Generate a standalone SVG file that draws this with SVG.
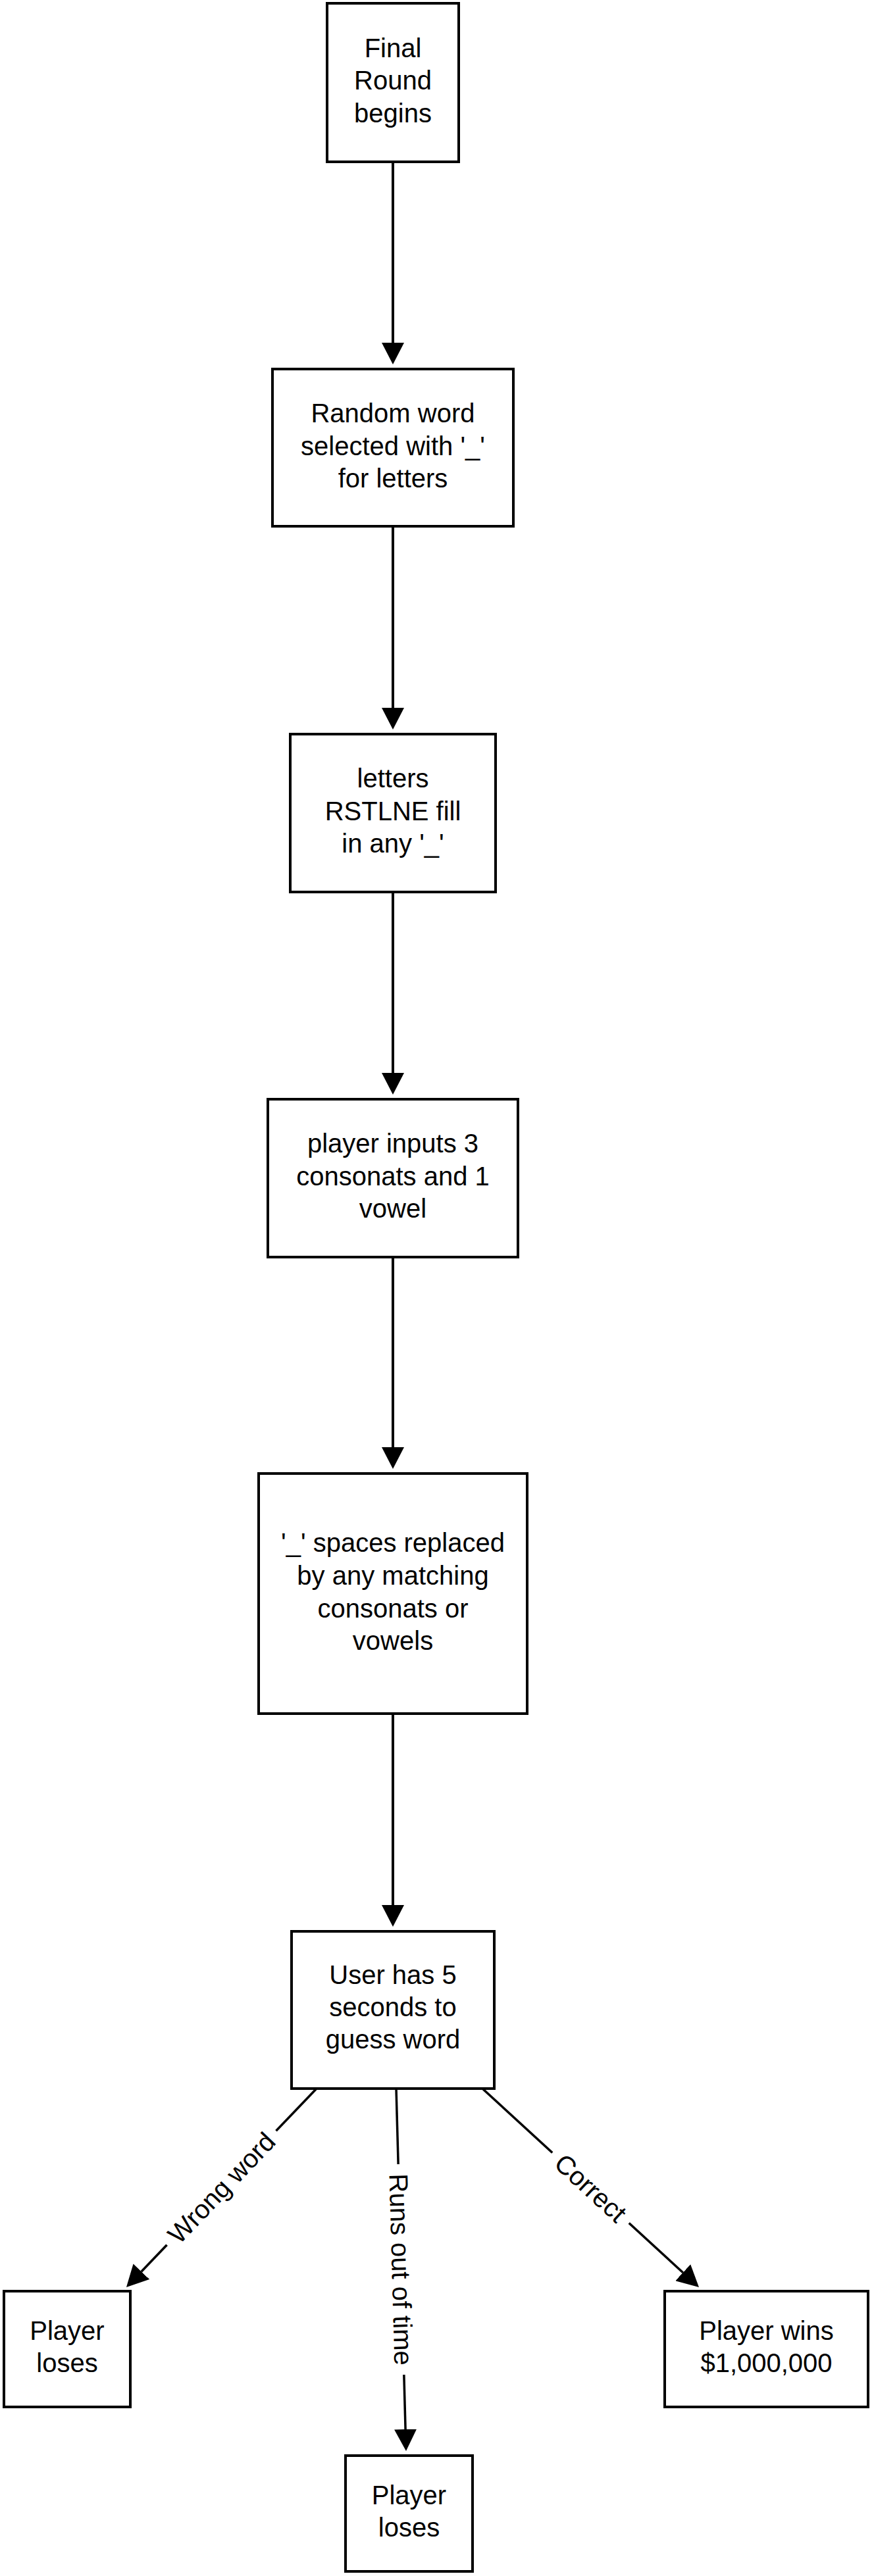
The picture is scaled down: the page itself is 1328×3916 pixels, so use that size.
<svg xmlns="http://www.w3.org/2000/svg" width="1328" height="3916" viewBox="0 0 1328 3916">
<style>
  .box { fill: #ffffff; stroke: #000000; stroke-width: 4; }
  .t { font-family: "Liberation Sans", Arial, Helvetica, sans-serif; font-size: 40px; fill: #000000; text-anchor: middle; }
  .edge { fill: none; stroke: #000000; stroke-width: 4; }
  .diag { fill: none; stroke: #000000; stroke-width: 3.5; }
  .lblbg { fill: #ffffff; stroke: none; }
</style>
<defs>
  <marker id="arrow" markerUnits="userSpaceOnUse" markerWidth="34" markerHeight="34" viewBox="0 0 34 34" refX="0" refY="17" orient="auto">
    <path d="M0,0 L33,17 L0,34 Z" fill="#000000"/>
  </marker>
</defs>
<rect width="1328" height="3916" fill="#ffffff"/>

<g id="connectors">
  <line class="edge" x1="597" y1="246" x2="597" y2="521" marker-end="url(#arrow)"/>
  <line class="edge" x1="597" y1="800" x2="597" y2="1076" marker-end="url(#arrow)"/>
  <line class="edge" x1="597" y1="1356" x2="597" y2="1631" marker-end="url(#arrow)"/>
  <line class="edge" x1="597" y1="1911" x2="597" y2="2200" marker-end="url(#arrow)"/>
  <line class="edge" x1="597" y1="2605" x2="597" y2="2896" marker-end="url(#arrow)"/>

  <g id="edge-wrong">
    <line class="diag" x1="481" y1="3175" x2="214.8" y2="3453.2" marker-end="url(#arrow)"/>
    <g transform="translate(336.5,3326) rotate(-46.27)">
      <rect class="lblbg" x="-120" y="-20" width="240" height="40"/>
      <text class="t" x="0" y="14">Wrong word</text>
    </g>
  </g>
  <g id="edge-time">
    <line class="diag" x1="602" y1="3175" x2="616.1" y2="3693" marker-end="url(#arrow)"/>
    <g transform="translate(609.5,3450) rotate(88.44)">
      <rect class="lblbg" x="-160" y="-20" width="320" height="40"/>
      <text class="t" x="0" y="14">Runs out of time</text>
    </g>
  </g>
  <g id="edge-correct">
    <line class="diag" x1="733" y1="3175" x2="1037.7" y2="3454.7" marker-end="url(#arrow)"/>
    <g transform="translate(897.5,3326) rotate(42.55)">
      <rect class="lblbg" x="-79" y="-20" width="158" height="40"/>
      <text class="t" x="0" y="14">Correct</text>
    </g>
  </g>
</g>

<g id="n1">
  <rect class="box" x="497" y="5" width="200" height="241"/>
  <text class="t" x="597" y="86.5">Final</text>
  <text class="t" x="597" y="136">Round</text>
  <text class="t" x="597" y="185.5">begins</text>
</g>
<g id="n2">
  <rect class="box" x="414" y="561" width="366" height="239"/>
  <text class="t" x="597" y="642">Random word</text>
  <text class="t" x="597" y="691.5">selected with '_'</text>
  <text class="t" x="597" y="741">for letters</text>
</g>
<g id="n3">
  <rect class="box" x="441" y="1116" width="312" height="240"/>
  <text class="t" x="597" y="1197">letters</text>
  <text class="t" x="597" y="1246.5">RSTLNE fill</text>
  <text class="t" x="597" y="1296">in any '_'</text>
</g>
<g id="n4">
  <rect class="box" x="407" y="1671" width="380" height="240"/>
  <text class="t" x="597" y="1752">player inputs 3</text>
  <text class="t" x="597" y="1801.5">consonats and 1</text>
  <text class="t" x="597" y="1851">vowel</text>
</g>
<g id="n5">
  <rect class="box" x="393" y="2240" width="408" height="365"/>
  <text class="t" x="597" y="2359">'_' spaces replaced</text>
  <text class="t" x="597" y="2409">by any matching</text>
  <text class="t" x="597" y="2459">consonats or</text>
  <text class="t" x="597" y="2508">vowels</text>
</g>
<g id="n6">
  <rect class="box" x="443" y="2936" width="308" height="239"/>
  <text class="t" x="597" y="3016">User has 5</text>
  <text class="t" x="597" y="3065">seconds to</text>
  <text class="t" x="597" y="3114">guess word</text>
</g>
<g id="n7">
  <rect class="box" x="6" y="3483" width="192" height="176"/>
  <text class="t" x="102" y="3557">Player</text>
  <text class="t" x="102" y="3606">loses</text>
</g>
<g id="n8">
  <rect class="box" x="525" y="3733" width="193" height="176"/>
  <text class="t" x="621.5" y="3807">Player</text>
  <text class="t" x="621.5" y="3856">loses</text>
</g>
<g id="n9">
  <rect class="box" x="1010" y="3483" width="309" height="176"/>
  <text class="t" x="1164.5" y="3557">Player wins</text>
  <text class="t" x="1164.5" y="3606">$1,000,000</text>
</g>
</svg>
